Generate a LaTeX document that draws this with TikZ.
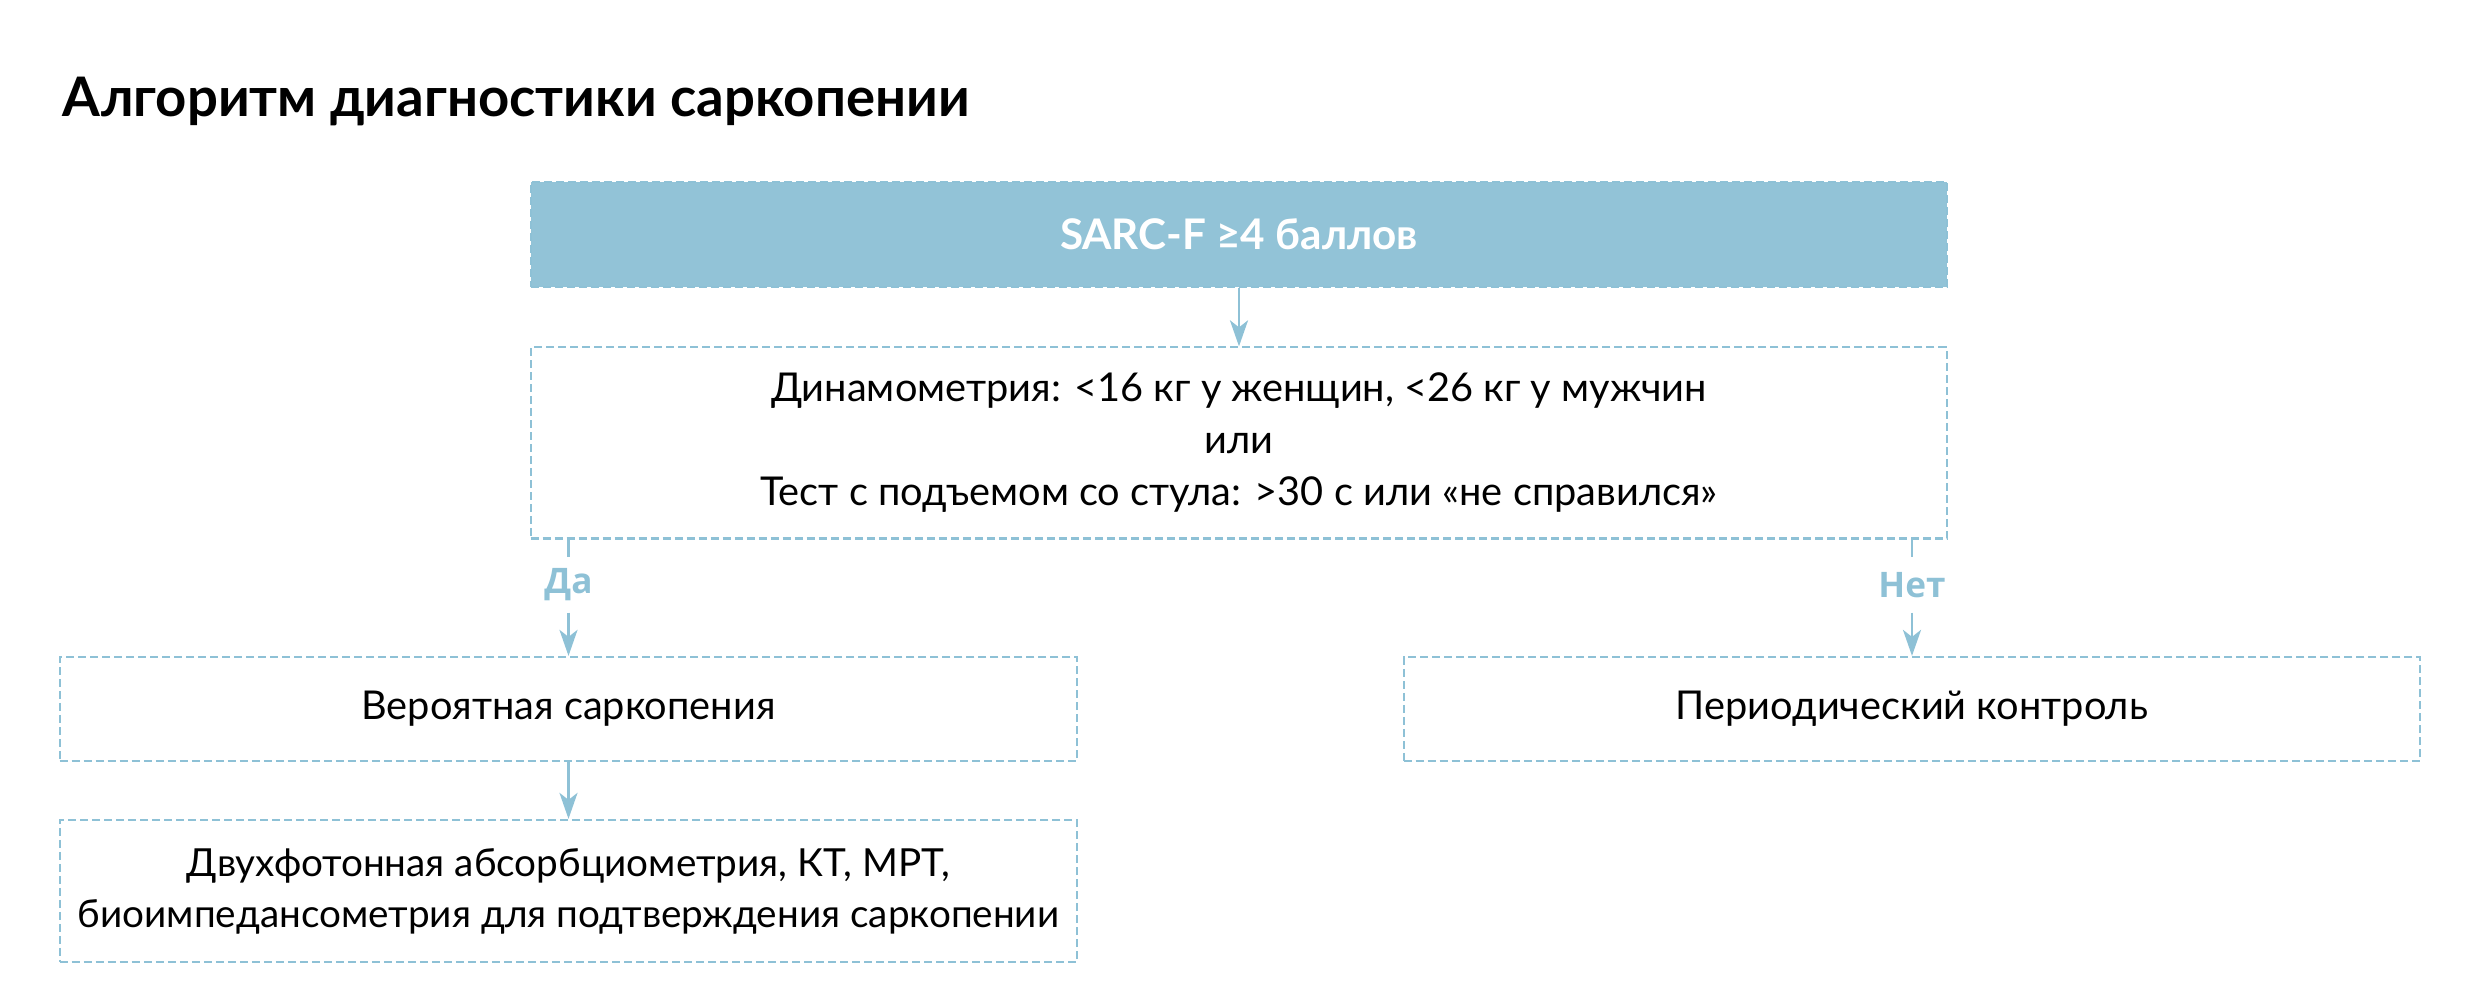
\documentclass[tikz,border=0pt]{standalone}
\usepackage{fontspec}
\setmainfont{Lato}
\newfontfamily\osans{Open Sans}
\usetikzlibrary{arrows.meta}
\definecolor{sblue}{HTML}{92C3D7}
\definecolor{lblue}{HTML}{8EC1D6}
\begin{document}
\begin{tikzpicture}[x=0.01cm,y=-0.01cm,
  box/.style={draw=lblue, line width=0.6pt, dash pattern=on 0.08cm off 0.04cm,
    rectangle, inner sep=0, align=center, text=black,
    font=\fontsize{11.3}{14.8}\selectfont},
  arr/.style={draw=lblue, line width=0.8pt,
    -{Stealth[length=0.26cm,width=0.18cm,inset=0.07cm]}},
  conn/.style={draw=lblue, line width=0.8pt},
  yn/.style={text=lblue, font=\osans\bfseries\fontsize{10}{12}\selectfont,
    inner sep=0, minimum height=0.54cm}]
\useasboundingbox (0,0) rectangle (2480,1007);

\node[anchor=base west, inner sep=0, font=\bfseries\fontsize{15.5}{17}\selectfont]
  (title) at (62,117) {Алгоритм диагностики саркопении};

\node[box, fill=sblue, minimum width=14.16cm, minimum height=1.05cm,
  text=white, font=\bfseries\fontsize{12}{14}\selectfont]
  (sarc) at (1239,234.5) {SARC-F ≥4 баллов};

\node[box, minimum width=14.16cm, minimum height=1.91cm] (crit) at (1239,443)
  {Динамометрия: <16 кг у женщин, <26 кг у мужчин\\или\\Тест с подъемом со стула: >30 с или «не справился»};

\node[box, minimum width=10.17cm, minimum height=1.04cm] (vero) at (568.5,709)
  {Вероятная саркопения};
\node[box, minimum width=10.16cm, minimum height=1.04cm] (period) at (1912,709)
  {Периодический контроль};
\node[box, minimum width=10.17cm, minimum height=1.42cm,
  font=\fontsize{11}{14.5}\selectfont] (final) at (568.5,891)
  {Двухфотонная абсорбциометрия, КТ, МРТ,\\биоимпедансометрия для подтверждения саркопении};

\node[yn] (da) at (568.5,585) {Да};
\node[yn] (net) at (1912,585) {Нет};

\draw[arr] (sarc.south) -- (crit.north);
\draw[conn] (crit.south -| da) -- (da.north);
\draw[arr] (da.south) -- (vero.north);
\draw[conn] (crit.south -| net) -- (net.north);
\draw[arr] (net.south) -- (period.north);
\draw[arr] (vero.south) -- (final.north);
\end{tikzpicture}
\end{document}
